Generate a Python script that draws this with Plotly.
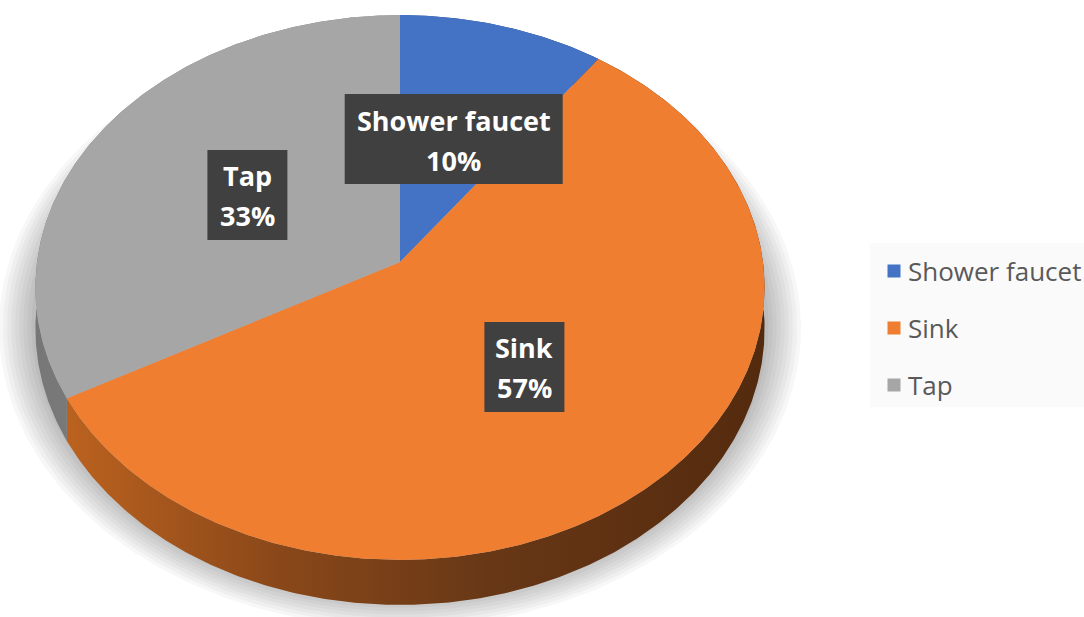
import numpy as np
import plotly.graph_objects as go

# ---------------- data ----------------
categories = ["Shower faucet", "Sink", "Tap"]
values = [10, 57, 33]

# ---------------- style ----------------
top_colors = ["#4472C4", "#EF7E31", "#A6A6A6"]
side_scales = [
    [[0, "#2f5597"], [1, "#203864"]],
    [[0, "#bb621f"], [0.3, "#8a4819"], [0.6, "#683816"], [1, "#542a0e"]],
    [[0, "#777777"], [1, "#8c8c8c"]],
]
label_box_w = [218, 80, 80]
W, Hpx = 1084, 617

# perspective projection of a unit disc (pixel space)
CX, CY, A, B, P, DEPTH = 400.0, 262.0, 363.0, 270.0, 0.0936, 40.8


def proj(theta_deg, r=1.0, drop=0.0, k=1.0, dy=0.0):
    t = np.radians(theta_deg)
    u = r * np.sin(t)
    v = r * np.cos(t)
    d = 1 + P * v
    return CX + k * A * u / d, CY - k * B * v / d + drop / d + dy


total = float(sum(values))
spans = [360.0 * v / total for v in values]
starts = np.concatenate([[0.0], np.cumsum(spans)[:-1]])

fig = go.Figure()

# soft shadow
full = np.linspace(0, 360, 361)
for k in np.linspace(1.0, 1.10, 10):
    xs, ys = proj(full, k=k, dy=38)
    fig.add_trace(go.Scatter(x=xs, y=ys, fill="toself", mode="lines",
                             line=dict(width=0), fillcolor="rgba(0,0,0,0.03)",
                             hoverinfo="skip", showlegend=False))

# sides
for i, (s, sp) in enumerate(zip(starts, spans)):
    th = np.linspace(s, s + sp, max(int(sp * 2), 4))
    xt, yt = proj(th)
    xb, yb = proj(th[::-1], drop=DEPTH)
    fig.add_trace(go.Scatter(
        x=np.concatenate([xt, xb]), y=np.concatenate([yt, yb]),
        fill="toself", mode="lines", line=dict(width=0),
        fillgradient=dict(type="horizontal", colorscale=side_scales[i]),
        hoverinfo="skip", showlegend=False))

# top faces
for i, (s, sp) in enumerate(zip(starts, spans)):
    th = np.linspace(s, s + sp, max(int(sp * 2), 4))
    xt, yt = proj(th)
    fig.add_trace(go.Scatter(
        x=np.concatenate([[CX], xt, [CX]]), y=np.concatenate([[CY], yt, [CY]]),
        fill="toself", mode="lines", line=dict(width=0),
        fillcolor=top_colors[i], hoverinfo="skip", showlegend=False))

# data labels: dark box + two lines of text
for i, (s, sp) in enumerate(zip(starts, spans)):
    lx, ly = proj(s + sp / 2, r=0.5)
    pct = f"{round(values[i] / total * 100)}%"
    bw = label_box_w[i]
    fig.add_shape(type="rect", xref="x", yref="y",
                  x0=lx - bw / 2, x1=lx + bw / 2, y0=ly - 45, y1=ly + 45,
                  fillcolor="#404040", line=dict(width=0))
    for txt, off in [(categories[i], -19), (pct, 21)]:
        fig.add_annotation(x=lx, y=ly + off, xref="x", yref="y", text=f"<b>{txt}</b>",
                           showarrow=False, xanchor="center", yanchor="middle",
                           font=dict(family="Open Sans", size=27, color="white"))

# legend (manual)
fig.add_shape(type="rect", x0=870, x1=1084, y0=243, y1=407, xref="x", yref="y",
              fillcolor="#fafafa", line=dict(width=0), layer="below")
for i, name in enumerate(categories):
    yy = 271 + 57 * i
    fig.add_trace(go.Scatter(x=[894], y=[yy], mode="markers",
                             marker=dict(symbol="square", size=13, color=top_colors[i]),
                             hoverinfo="skip", showlegend=False))
    fig.add_annotation(x=906, y=yy, xref="x", yref="y", text=name, showarrow=False,
                       xanchor="left", yanchor="middle",
                       font=dict(family="Open Sans", size=26, color="#595959"))

fig.update_layout(
    width=W, height=Hpx, margin=dict(l=0, r=0, t=0, b=0),
    paper_bgcolor="white", plot_bgcolor="white",
    xaxis=dict(range=[0, W], visible=False, fixedrange=True),
    yaxis=dict(range=[Hpx, 0], visible=False, fixedrange=True),
    showlegend=False,
)

fig.write_html("out.html")
